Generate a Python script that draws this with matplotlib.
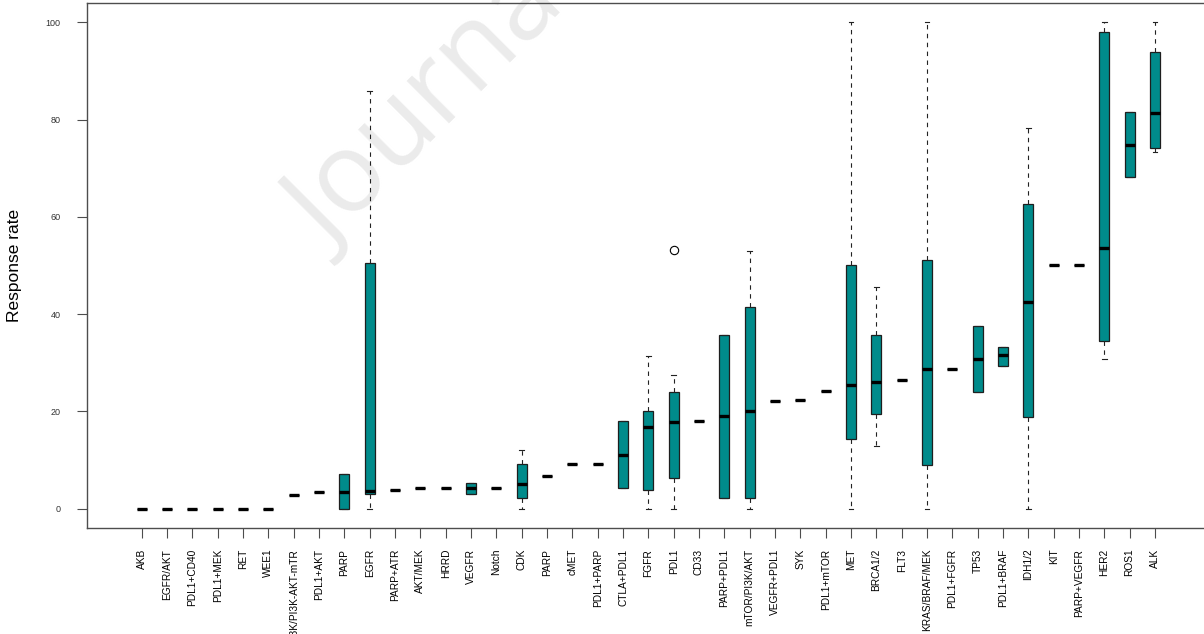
import matplotlib
matplotlib.use('Agg')

import matplotlib.pyplot as plt

plt.rcParams['font.family'] = ['Liberation Sans', 'DejaVu Sans']

TARGETS = [
  'AKB', 'EGFR/AKT', 'PDL1+CD40', 'PDL1+MEK', 'RET', 'WEE1', 'PI3K/PI3K-AKT-mTR',
  'PDL1+AKT', 'PARP', 'EGFR', 'PARP+ATR', 'AKT/MEK', 'HRRD', 'VEGFR', 'Notch',
  'CDK', 'PARP', 'cMET', 'PDL1+PARP', 'CTLA+PDL1', 'FGFR', 'PDL1', 'CD33',
  'PARP+PDL1', 'mTOR/PI3K/AKT', 'VEGFR+PDL1', 'SYK', 'PDL1+mTOR', 'MET',
  'BRCA1/2', 'FLT3', 'KRAS/BRAF/MEK', 'PDL1+FGFR', 'TP53', 'PDL1+BRAF',
  'IDH1/2', 'KIT', 'PARP+VEGFR', 'HER2', 'ROS1', 'ALK',
]
Q1 = [
  0, 0, 0, 0, 0, 0, 2.8, 3.4, 0, 3.0, 3.9, 4.15, 4.15, 3.0, 4.15,
  2.1, 6.7, 9.2, 9.2, 4.15, 3.75, 6.2, 18.1, 2.1, 2.1, 22.1, 22.3, 24.1, 14.3,
  19.5, 26.4, 9.0, 28.7, 23.9, 29.3, 18.8, 50.1, 50.1, 34.5, 68.2, 74.1,
]
MEDIAN = [
  0, 0, 0, 0, 0, 0, 2.8, 3.4, 3.5, 3.7, 3.9, 4.15, 4.15, 4.2, 4.15,
  5.1, 6.7, 9.2, 9.2, 11.0, 16.7, 17.9, 18.1, 19.05, 20.1, 22.1, 22.3, 24.1, 25.5,
  26.0, 26.4, 28.7, 28.7, 30.8, 31.5, 42.4, 50.1, 50.1, 53.7, 74.8, 81.4,
]
Q3 = [
  0, 0, 0, 0, 0, 0, 2.8, 3.4, 7.1, 50.6, 3.9, 4.15, 4.15, 5.2, 4.15,
  9.2, 6.7, 9.2, 9.2, 18.1, 20.1, 23.9, 18.1, 35.8, 41.5, 22.1, 22.3, 24.1, 50.1,
  35.7, 26.4, 51.1, 28.7, 37.6, 33.3, 62.7, 50.1, 50.1, 98.0, 81.6, 94.0,
]
WHISK_LO = [
  0, 0, 0, 0, 0, 0, 2.8, 3.4, 0, 0, 3.9, 4.15, 4.15, 3.0, 4.15,
  0, 6.7, 9.2, 9.2, 4.15, 0, 0, 18.1, 2.1, 0, 22.1, 22.3, 24.1, 0,
  12.9, 26.4, 0, 28.7, 23.9, 29.3, 0, 50.1, 50.1, 30.8, 68.2, 73.3,
]
WHISK_HI = [
  0, 0, 0, 0, 0, 0, 2.8, 3.4, 7.1, 85.8, 3.9, 4.15, 4.15, 5.2, 4.15,
  12.05, 6.7, 9.2, 9.2, 18.1, 31.3, 27.5, 18.1, 35.8, 53.0, 22.1, 22.3, 24.1, 100,
  45.5, 26.4, 100, 28.7, 37.6, 33.3, 78.2, 50.1, 50.1, 100, 81.6, 100,
]
# only the PDL1 group has a point beyond its whiskers
OUTLIER_IDX = 21
OUTLIER_VALS = [53.2]

BOX_COLOR = '#008B8B'
AXIS_COLOR = '#4d4d4d'

stats = []
for idx, target in enumerate(TARGETS):
  stats.append({
    'label' : target,
    'q1' : Q1[idx], 'med' : MEDIAN[idx], 'q3' : Q3[idx],
    'whislo' : WHISK_LO[idx], 'whishi' : WHISK_HI[idx],
    'fliers' : OUTLIER_VALS if idx == OUTLIER_IDX else [],
  })

fig = plt.figure(figsize = (12.04, 6.34), dpi = 100)
ax = fig.add_axes([87 / 1204., 106 / 634., 1129 / 1204., 525 / 634.])
ax.patch.set_alpha(0)

positions = list(range(1, len(TARGETS) + 1))
ax.bxp(
  stats, positions = positions, widths = 0.4, capwidths = 0.18, patch_artist = True,
  boxprops = { 'facecolor' : BOX_COLOR, 'edgecolor' : '#1e1e1e', 'linewidth' : 0.9 },
  medianprops = { 'color' : 'black', 'linewidth' : 2.4, 'solid_capstyle' : 'butt' },
  whiskerprops = { 'color' : '#222222', 'linewidth' : 0.8, 'linestyle' : (0, (4, 4)) },
  capprops = { 'color' : '#222222', 'linewidth' : 0.8 },
  flierprops = { 'marker' : 'o', 'markerfacecolor' : 'none', 'markeredgecolor' : 'black',
                 'markersize' : 6, 'markeredgewidth' : 0.8 },
)

ax.set_xlim(-1.16, 43.41)
ax.set_ylim(-4, 104)
ax.set_yticks([0, 20, 40, 60, 80, 100])
ax.set_xticks(positions)
ax.set_xticklabels(TARGETS, rotation = 90, fontsize = 7.3, va = 'top', ha = 'center')
ax.tick_params(axis = 'y', labelsize = 6.5, length = 7, pad = 12, colors = AXIS_COLOR, labelcolor = '#333333')
ax.tick_params(axis = 'x', length = 7, pad = 8, colors = AXIS_COLOR, labelcolor = 'black')
for side in ['left', 'bottom', 'top', 'right']:
  ax.spines[side].set_color(AXIS_COLOR)
  ax.spines[side].set_linewidth(1.0)

fig.text(15 / 1204., 1 - 265 / 634., 'Response rate', rotation = 90, fontsize = 12.5,
         ha = 'center', va = 'center')

# faint watermark across the upper middle
fig.text(330 / 1204., 1 - 252 / 634., 'Journal Pre-proof', rotation = 45, rotation_mode = 'anchor',
         fontsize = 80, family = ['Open Sans', 'DejaVu Sans'], color = '#ebebeb',
         ha = 'left', va = 'baseline', zorder = -1)

fig.savefig('out.png', dpi = 100)
plt.close()
